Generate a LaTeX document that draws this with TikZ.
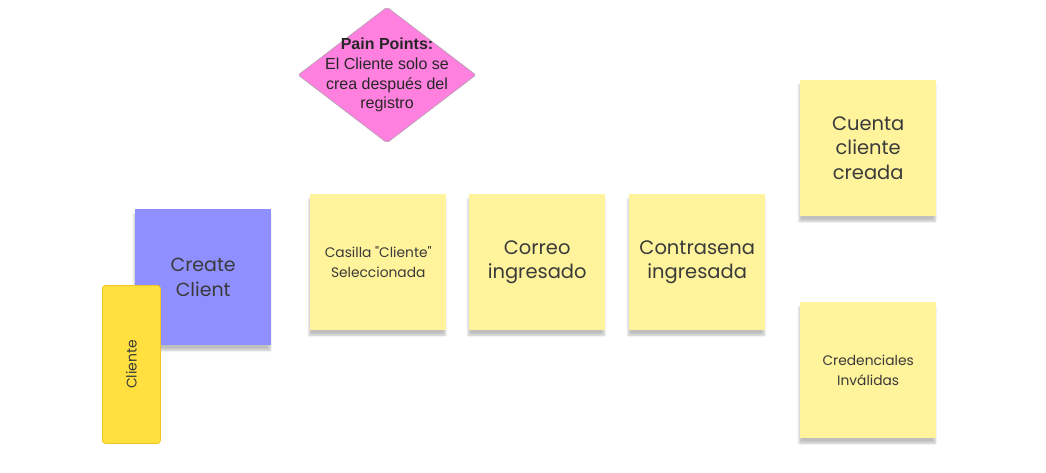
\documentclass[tikz,border=0pt]{standalone}
\usepackage{fontspec}
\setmainfont{Poppins}
\newfontfamily\diafont{Liberation Sans}
\usetikzlibrary{shapes.geometric,shadows.blur}
\definecolor{sticky}{HTML}{FFF39B}
\definecolor{violet}{HTML}{8F8FFF}
\definecolor{pinkd}{HTML}{FF80DF}
\definecolor{gold}{HTML}{FFE03F}
\definecolor{goldb}{HTML}{F2C521}
\definecolor{txt}{HTML}{3A3A3A}
\tikzset{
  note/.style={minimum width=136pt, minimum height=136pt, inner sep=0pt,
    fill=sticky, text=txt, align=center, anchor=north west,
    blur shadow={shadow xshift=-1pt, shadow yshift=-5pt, shadow blur steps=6, shadow opacity=25}},
  big/.style={font=\fontsize{19.5}{24.5}\selectfont},
  small/.style={font=\fontsize{13.8}{20.5}\selectfont},
}
\begin{document}
\begin{tikzpicture}[x=1pt,y=-1pt]
\useasboundingbox (0,0) rectangle (1046,473);
% diamond
\node (pain) [diamond, aspect=1.31, minimum width=178pt, minimum height=136pt, inner sep=0pt,
  fill=pinkd, draw=black!35, line width=0.5pt, rounded corners=2pt] at (387,75) {};
\node (paintext) [align=center, text=black!85, inner sep=0pt,
  font=\diafont\fontsize{16}{19.8}\selectfont] at (pain.center)
  {\textbf{Pain Points:}\\El Cliente solo se\\crea después del\\registro};
% create client
\node (create) [note, fill=violet, font=\fontsize{19}{24.5}\selectfont] at (135,209) {Create\\Client};
% cliente
\node (actor) [minimum width=58pt, minimum height=158pt, inner sep=0pt, anchor=north west,
  fill=gold, draw=goldb, line width=0.8pt, rounded corners=3pt] at (102,285) {};
\node (actortxt) [rotate=90, text=txt, font=\fontsize{14}{16}\selectfont] at (actor.center) {Cliente};
% stickies
\node (casilla) [note, small] at (310,194) {Casilla \textquotedbl Cliente\textquotedbl\\Seleccionada};
\node (correo) [note, big] at (469,194) {Correo\\ingresado};
\node (contra) [note, big] at (629,194) {Contrasena\\ingresada};
\node (cuenta) [note, big] at (800,80) {Cuenta\\cliente\\creada};
\node (cred) [note, small] at (800,302) {Credenciales\\Inválidas};
\end{tikzpicture}
\end{document}
